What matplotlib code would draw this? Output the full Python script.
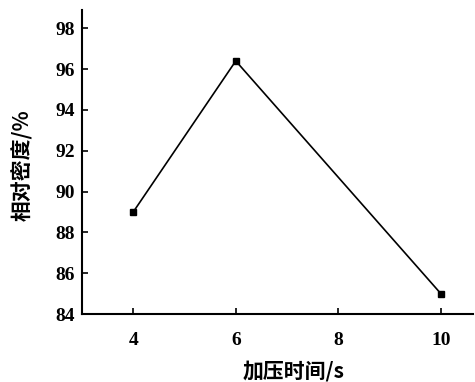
import matplotlib.pyplot as plt

# dati
press_time = [4, 6, 10]
rel_density = [89.0, 96.4, 85.0]
x_ticks = [4, 6, 8, 10]
y_ticks = [84, 86, 88, 90, 92, 94, 96, 98]

num_font = ['Liberation Serif', 'DejaVu Serif']
cjk_font = ['Noto Sans CJK SC', 'DejaVu Sans']

fig = plt.figure(figsize=(4.75, 3.82), dpi=100)
ax = fig.add_axes([0.1726, 0.178, 0.8234, 0.796])

ax.plot(press_time, rel_density, color='black', linewidth=1.2,
        marker='s', markersize=5, markerfacecolor='black')

ax.set_xlim(3.0, 10.63)
ax.set_ylim(84, 98.9)
ax.set_xticks(x_ticks)
ax.set_yticks(y_ticks)
ax.set_xticklabels([str(v) for v in x_ticks], family=num_font,
                   fontweight='bold', fontsize=14)
ax.set_yticklabels([str(v) for v in y_ticks], family=num_font,
                   fontweight='bold', fontsize=14)

for side in ['top', 'right']:
    ax.spines[side].set_visible(False)
for side in ['left', 'bottom']:
    ax.spines[side].set_linewidth(1.5)

ax.tick_params(axis='both', direction='in', length=4, width=1.2)
ax.tick_params(axis='x', pad=13)
ax.tick_params(axis='y', pad=5)

ax.set_xlabel('加压时间/s', family=cjk_font, fontsize=15, fontweight='bold')
ax.set_ylabel('相对密度/%', family=cjk_font, fontsize=15, fontweight='bold')
ax.xaxis.set_label_coords(0.54, -0.152)
ax.yaxis.set_label_coords(-0.125, 0.49)

plt.savefig('out.png', dpi=100)
